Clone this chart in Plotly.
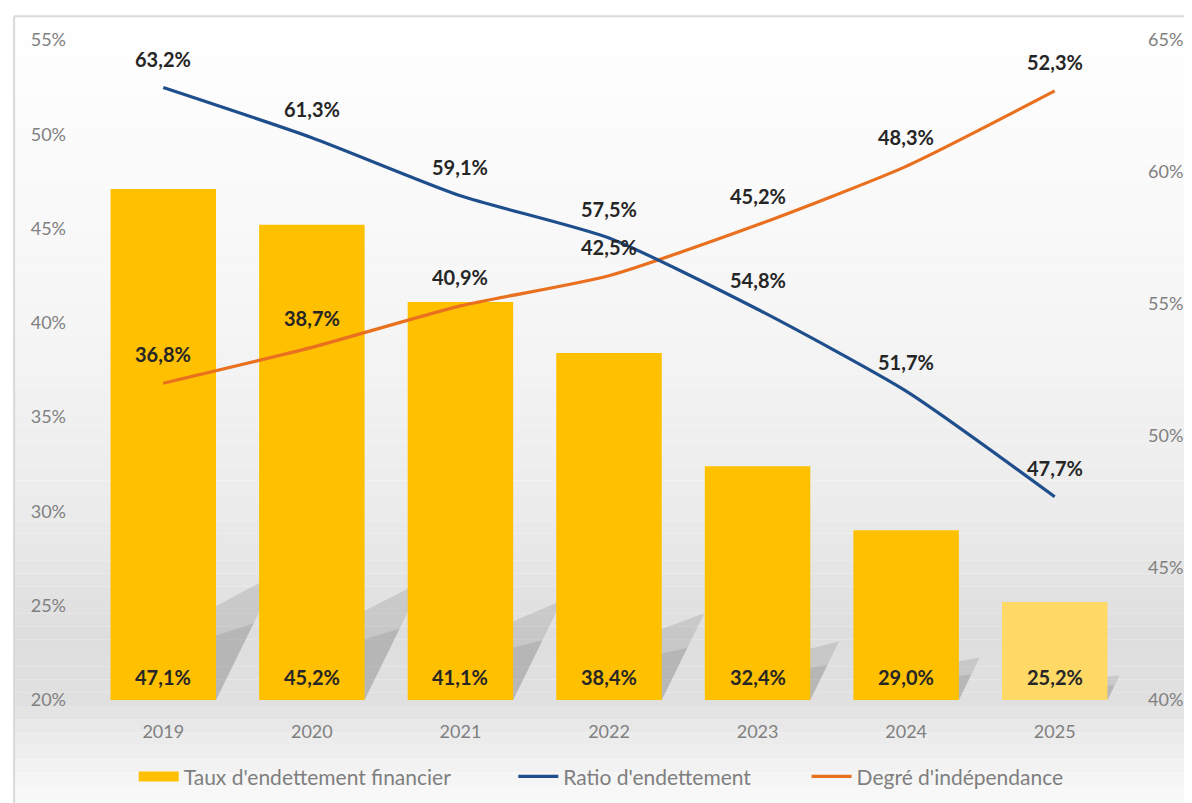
import plotly.graph_objects as go

years = ["2019", "2020", "2021", "2022", "2023", "2024", "2025"]
taux_endettement = [47.1, 45.2, 41.1, 38.4, 32.4, 29.0, 25.2]
ratio_endettement = [63.2, 61.3, 59.1, 57.5, 54.8, 51.7, 47.7]
degre_independance = [36.8, 38.7, 40.9, 42.5, 45.2, 48.3, 52.3]

FONT = "Lato"
YELLOW = "#FFC000"
bar_colors = [YELLOW] * 6 + ["#FFD966"]
BAR_GAP = 0.29


def fmt(v):
    return f"{v:.1f}%".replace(".", ",")


fig = go.Figure()

fig.add_trace(go.Bar(
    x=years, y=taux_endettement, name="Taux d'endettement financier",
    marker=dict(color=bar_colors, line=dict(width=0)), hoverinfo="skip",
    showlegend=False
))
# entrée de légende rectangulaire pour les barres
fig.add_trace(go.Scatter(
    x=[None], y=[None], name="Taux d'endettement financier", mode="lines",
    line=dict(color=YELLOW, width=12), legend="legend"
))
fig.add_trace(go.Scatter(
    x=years, y=ratio_endettement, name="Ratio d'endettement", yaxis="y2",
    mode="lines", line=dict(color="#1F4E8C", width=3.2, shape="spline", smoothing=0.6),
    legend="legend2"
))
fig.add_trace(go.Scatter(
    x=years, y=degre_independance, name="Degré d'indépendance",
    mode="lines", line=dict(color="#E8701F", width=3.2, shape="spline", smoothing=0.6),
    legend="legend3"
))

# étiquettes : x en indice de catégorie (axe catégoriel)
label_font = dict(family=FONT, size=20, color="#262626")
annotations = []
for i, v in enumerate(taux_endettement):
    annotations.append(dict(x=i, y=20, xref="x", yref="y", text="<b>" + fmt(v) + "</b>",
                            showarrow=False, yshift=23, font=label_font))
for i, v in enumerate(ratio_endettement):
    annotations.append(dict(x=i, y=v, xref="x", yref="y2", text="<b>" + fmt(v) + "</b>",
                            showarrow=False, yshift=29, font=label_font))
for i, v in enumerate(degre_independance):
    annotations.append(dict(x=i, y=v, xref="x", yref="y", text="<b>" + fmt(v) + "</b>",
                            showarrow=False, yshift=29, font=label_font))

# fond en dégradé (bandes horizontales en coordonnées papier)
stops = [(1.04, 255), (0.6, 246), (0.3, 236), (0.1, 222), (0.0, 224),
         (-0.07, 238), (-0.15, 250)]
shapes = []
n = 60
top, bottom = 1.036, -0.17
for k in range(n):
    y0 = top - (top - bottom) * k / n
    y1 = top - (top - bottom) * (k + 1) / n
    ym = (y0 + y1) / 2
    g = stops[-1][1]
    for (ya, ga), (yb, gb) in zip(stops[:-1], stops[1:]):
        if yb <= ym <= ya:
            g = ga + (gb - ga) * (ya - ym) / (ya - yb)
            break
    g = int(round(g))
    shapes.append(dict(type="rect", xref="paper", yref="paper", x0=-0.072, x1=1.1,
                       y0=y1, y1=y0, fillcolor=f"rgb({g},{g},{g})",
                       line=dict(width=0), layer="below"))

# ombres portées des barres (effet 3D), proportionnelles à la hauteur
half = (1 - BAR_GAP) / 2
px_x, px_y = 1040 / 7, 660 / 35
for i, v in enumerate(taux_endettement):
    for frac, alpha in ((1.0, 0.16), (0.6, 0.14)):
        dy = 0.25 * (v - 20) * frac
        dx = 0.49 * dy * px_y / px_x
        L, R = i - half, i + half
        path = (f"M {L},20 L {R},20 L {R + dx},{20 + dy} "
                f"L {L + dx},{20 + dy * 0.55} Z")
        shapes.append(dict(type="path", xref="x", yref="y", path=path,
                           fillcolor=f"rgba(80,80,80,{alpha})", line=dict(width=0),
                           layer="below"))

# cadre
shapes.append(dict(type="line", xref="paper", yref="paper", x0=-0.072, x1=1.1,
                   y0=1.036, y1=1.036, line=dict(color="#D9D9D9", width=2)))
shapes.append(dict(type="line", xref="paper", yref="paper", x0=-0.072, x1=-0.072,
                   y0=1.036, y1=-0.17, line=dict(color="#D9D9D9", width=2)))

legend_base = dict(orientation="h", yref="container", y=0.033, yanchor="middle",
                   xanchor="left", font=dict(family=FONT, size=21, color="#7F7F7F"),
                   bgcolor="rgba(0,0,0,0)", itemwidth=40)
tick_font = dict(family=FONT, size=18, color="#808080")
fig.update_layout(
    width=1184, height=795,
    margin=dict(l=81, r=63, t=32, b=103, autoexpand=False),
    paper_bgcolor="white",
    plot_bgcolor="rgba(0,0,0,0)",
    font=dict(family=FONT),
    bargap=BAR_GAP,
    showlegend=True,
    legend=dict(legend_base, x=0.043),
    legend2=dict(legend_base, x=0.408),
    legend3=dict(legend_base, x=0.69),
    xaxis=dict(type="category", range=[-0.5, 6.5], showgrid=False, showline=False,
               zeroline=False, tickfont=tick_font, ticks="", ticklabelstandoff=19),
    yaxis=dict(range=[20, 55], dtick=5, ticksuffix="%", showgrid=False, zeroline=False,
               showline=False, tickfont=tick_font, ticklabelstandoff=22),
    yaxis2=dict(range=[40, 65], dtick=5, ticksuffix="%", overlaying="y", side="right",
                showgrid=False, zeroline=False, showline=False, tickfont=tick_font,
                ticklabelstandoff=18),
    annotations=annotations,
    shapes=shapes,
)

fig.write_html("out.html")
